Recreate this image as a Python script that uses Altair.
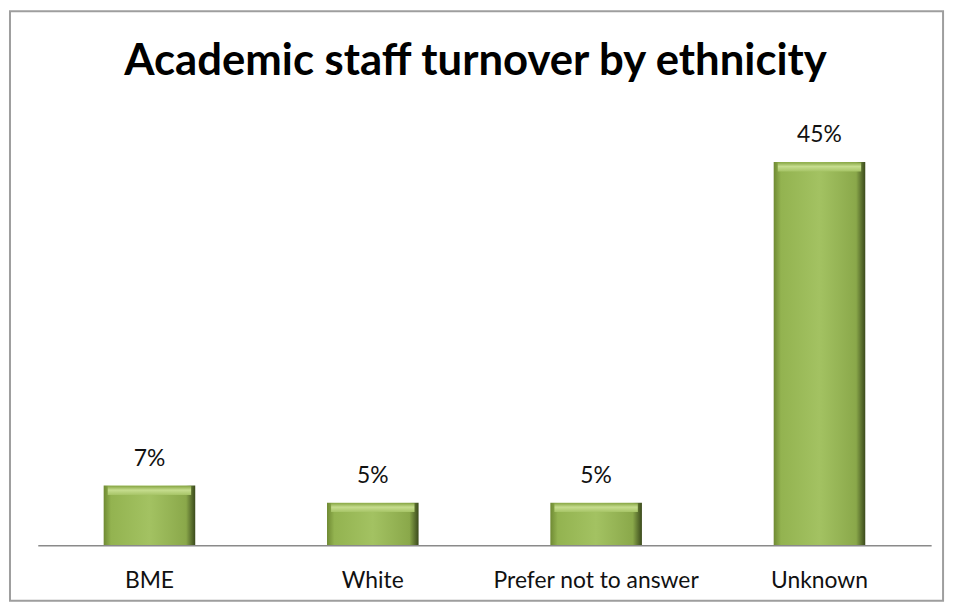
import altair as alt
import pandas as pd

categories = ["BME", "White", "Prefer not to answer", "Unknown"]
values = [0.07, 0.05, 0.05, 0.45]
labels = ["7%", "5%", "5%", "45%"]
title_text = "Academic staff turnover by ethnicity"

df = pd.DataFrame({"cat": categories, "val": values, "lab": labels})

FONT = "Lato"

x = alt.X("cat:N", sort=categories, title=None,
          scale=alt.Scale(paddingInner=0.59, paddingOuter=0.295),
          axis=alt.Axis(labelAngle=0, ticks=False, labelFont=FONT, labelFontSize=23,
                        labelColor="#111", labelPadding=36, labelBaseline="middle",
                        labelLimit=0,
                        domainColor="#8a8a8a", domainWidth=1.5, zindex=1))
y = alt.Y("val:Q", scale=alt.Scale(domain=[0, 0.5]), axis=None)

first = alt.Chart(df).transform_filter(alt.datum.cat == "BME")

border = first.mark_rect(fill=None, filled=False, stroke="#9e9e9e", strokeWidth=2, clip=False).encode(
    x=alt.value(-28), x2=alt.value(912), y=alt.value(-109), y2=alt.value(485)
)

bottom_shadow = first.mark_rule(color="#b4b4b4", strokeWidth=3, clip=False).encode(
    x=alt.value(-27), x2=alt.value(911), y=alt.value(487)
)

title = first.mark_text(font=FONT, fontSize=44, fontWeight="bold", color="#000",
                        baseline="alphabetic", align="center", text=title_text).encode(
    x=alt.value(441), y=alt.value(-45)
)

bars = alt.Chart(df).mark_bar(
    color={"gradient": "linear", "x1": 0, "x2": 1, "y1": 0, "y2": 0,
           "stops": [{"offset": 0, "color": "#6f8a33"},
                     {"offset": 0.08, "color": "#93b350"},
                     {"offset": 0.5, "color": "#a3c262"},
                     {"offset": 0.9, "color": "#8aa84a"},
                     {"offset": 1, "color": "#3b4a1c"}]}
).encode(x=x, y=y)

tops = alt.Chart(df).mark_tick(
    color={"gradient": "linear", "x1": 0, "x2": 0, "y1": 0, "y2": 1,
           "stops": [{"offset": 0, "color": "#8aa847"},
                     {"offset": 0.45, "color": "#c6dd8e"},
                     {"offset": 1, "color": "#a6c466"}]},
    thickness=9, yOffset=5, opacity=1
).encode(x=x, y=y, size=alt.value(84))

text = alt.Chart(df).mark_text(font=FONT, fontSize=23, color="#111", dy=-20,
                               baseline="alphabetic").encode(
    x=x, y=y, text="lab:N")

chart = alt.layer(border, bottom_shadow, title, bars, tops, text).properties(
    width=900, height=429,
    padding={"left": 30, "top": 110, "right": 20, "bottom": 55},
    autosize=alt.AutoSizeParams(type="none"),
).configure_view(stroke=None)

chart.save("out.html", embed_options={"renderer": "svg", "actions": False})
